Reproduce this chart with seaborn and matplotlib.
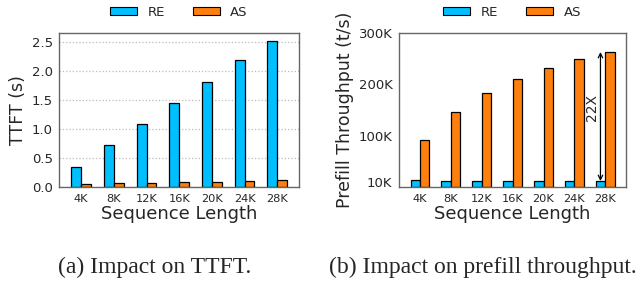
"""
Recreate: impact of sequence length on TTFT and prefill throughput (RE vs AS).
"""

import pandas as pd
import matplotlib
matplotlib.use("Agg")
import matplotlib.pyplot as plt
import seaborn as sns

# Data
seq_labels = ['4K', '8K', '12K', '16K', '20K', '24K', '28K']
systems = ['RE', 'AS']
ttft_re = [0.34, 0.72, 1.09, 1.45, 1.82, 2.20, 2.53]
ttft_as = [0.047, 0.064, 0.07, 0.08, 0.09, 0.097, 0.113]
tput_re = [13000, 11600, 11600, 11600, 11600, 11600, 11600]
tput_as = [91000, 145500, 182500, 210500, 231500, 248500, 263000]
tput_ticks = [10000, 100000, 200000, 300000]
tput_tick_labels = ['10K', '100K', '200K', '300K']
speedup_label = '22X'
captions = ['(a) Impact on TTFT.', '(b) Impact on prefill throughput.']

colors = {'RE': '#00BFFF', 'AS': '#FF7F0E'}


def long_frame(re_vals, as_vals):
    return pd.DataFrame({
        'seq': seq_labels * 2,
        'system': ['RE'] * len(seq_labels) + ['AS'] * len(seq_labels),
        'value': list(re_vals) + list(as_vals),
    })


def draw(ax, df):
    sns.barplot(data=df, x='seq', y='value', hue='system', hue_order=systems,
                palette=colors, width=0.6, edgecolor='black', linewidth=0.9,
                saturation=1, ax=ax, errorbar=None)
    ax.set_xlim(-0.68, 6.66)
    ax.set_xlabel('Sequence Length', fontsize=13, labelpad=1)
    ax.tick_params(axis='x', labelsize=8.2, length=3, pad=2)
    ax.tick_params(axis='y', labelsize=9.5, length=3, pad=1.5)
    for s in ax.spines.values():
        s.set_color('#666666')
        s.set_linewidth(1.0)
    ax.legend_.remove()
    handles = [plt.Rectangle((0, 0), 1, 1, facecolor=colors[k], edgecolor='black',
                             linewidth=0.8) for k in systems]
    ax.legend(handles, systems, ncol=2, frameon=False, fontsize=9.5,
              loc='lower center', bbox_to_anchor=(0.5, 1.06),
              handlelength=2.05, handleheight=0.6, columnspacing=2.1,
              handletextpad=0.8, borderaxespad=0)


def main():
    sns.set_style('white')
    plt.rcParams['font.family'] = ['DejaVu Sans']

    fig = plt.figure(figsize=(6.36, 2.81), dpi=100)

    # (a) TTFT
    ax1 = fig.add_axes([0.0928, 0.3345, 0.377, 0.548])
    draw(ax1, long_frame(ttft_re, ttft_as))
    ax1.set_ylim(0, 2.66)
    ax1.set_yticks([0, 0.5, 1.0, 1.5, 2.0, 2.5])
    ax1.yaxis.grid(True, linestyle=':', color='#BBBBBB', linewidth=0.9)
    ax1.set_axisbelow(True)
    ax1.set_ylabel('TTFT (s)', fontsize=12.5, labelpad=3)

    # (b) prefill throughput
    ax2 = fig.add_axes([0.627, 0.3345, 0.357, 0.548])
    draw(ax2, long_frame(tput_re, tput_as))
    ax2.set_ylim(0, 300000)
    ax2.set_yticks(tput_ticks)
    ax2.set_yticklabels(tput_tick_labels)
    ax2.set_ylabel('Prefill Throughput (t/s)', fontsize=12.5, labelpad=3)

    # speedup arrow on the 28K group
    x_arrow = 6 - 0.16
    ax2.annotate('', xy=(x_arrow, tput_as[-1]), xytext=(x_arrow, tput_re[-1]),
                 arrowprops=dict(arrowstyle='<->', color='black', lw=0.9,
                                 shrinkA=0, shrinkB=0, mutation_scale=8))
    ax2.text(x_arrow - 0.04, (tput_as[-1] + tput_re[-1]) / 2 + 18000, speedup_label,
             rotation=90, ha='right', va='center', fontsize=10)

    # captions
    fig.text(0.2437, 0.05, captions[0], ha='center', va='center',
             fontsize=17, family='Liberation Serif')
    fig.text(0.7586, 0.05, captions[1], ha='center', va='center',
             fontsize=17, family='Liberation Serif')

    fig.savefig('out.png', dpi=100)


if __name__ == '__main__':
    main()
